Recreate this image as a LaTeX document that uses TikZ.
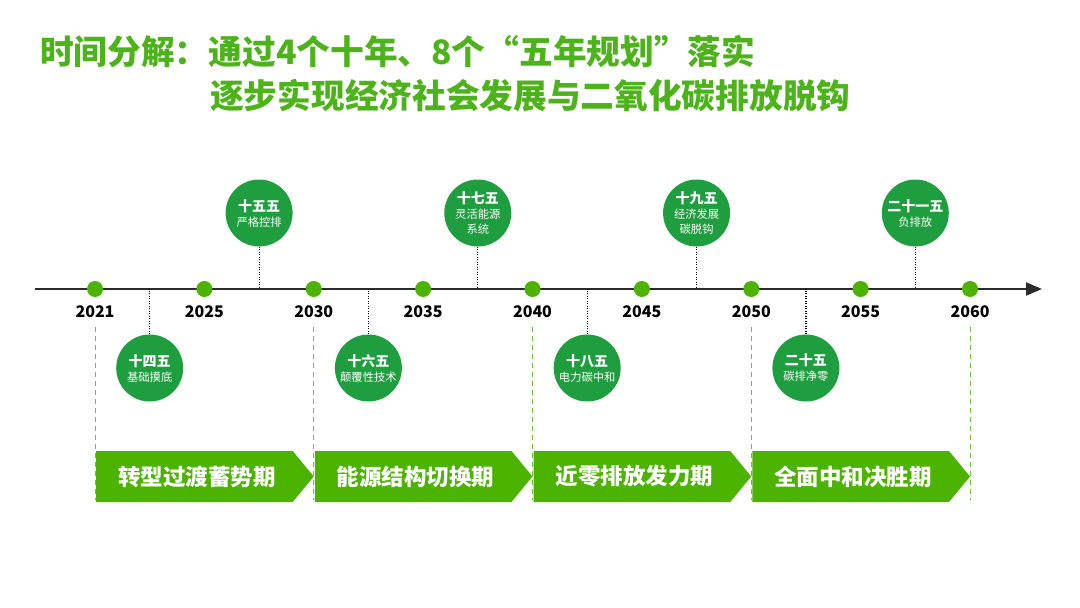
\documentclass[tikz,border=0pt]{standalone}
\usepackage{fontspec}
\setmainfont{Noto Sans CJK SC}
\usetikzlibrary{arrows.meta}
\definecolor{lgreen}{HTML}{4CB400}
\definecolor{tgreen}{HTML}{4CB31A}
\definecolor{dgreen}{HTML}{1E9E3E}
\definecolor{dashgreen}{HTML}{6CC23A}
\definecolor{axisgray}{HTML}{2B2B2B}
\newcommand\plantitle[1]{{\bfseries\fontsize{14}{15}\selectfont #1}}
\begin{document}
\begin{tikzpicture}[x=1pt,y=-1pt,
  titletext/.style={text=tgreen, font=\bfseries\fontsize{33.7}{36}\selectfont, anchor=west, inner sep=0},
  yeardot/.style={circle, fill=lgreen, minimum size=16pt, inner sep=0},
  yeartext/.style={font=\bfseries\fontsize{16}{18}\selectfont, text=black, inner sep=0},
  plan/.style={circle, fill=dgreen, minimum size=67pt, inner sep=0, text=white, align=center, font=\fontsize{11.3}{15}\selectfont},
  link/.style={black, line width=1.2pt, dash pattern=on 1.2pt off 1.3pt},
  guide/.style={dashgreen, line width=1pt, dash pattern=on 5pt off 4pt},
  phasetext/.style={text=white, font=\bfseries\fontsize{22.5}{24}\selectfont, inner sep=0}
]
\path[use as bounding box] (0,0) rectangle (1080,608);

% title
\node[titletext] (t1) at (40,51) {时间分解：通过4个十年、8个“五年规划”落实};
\node[titletext] (t2) at (210,96) {逐步实现经济社会发展与二氧化碳排放脱钩};

% axis
\coordinate (axL) at (35,289);
\coordinate (axR) at (1042,289);
\draw[axisgray, line width=2pt, -{Triangle[length=16pt,width=13pt]}] (axL) -- (axR);

% guides (behind)
\foreach \i/\yr in {0/2021,2/2030,4/2040,6/2050,8/2060} {
  \coordinate (ga\yr) at ({95+109.375*\i},327);
  \coordinate (gb\yr) at ({95+109.375*\i},500);
  \draw[guide] (ga\yr) -- (gb\yr);
}

% year dots and labels
\foreach \i/\yr in {0/2021,1/2025,2/2030,3/2035,4/2040,5/2045,6/2050,7/2055,8/2060} {
  \node[yeardot] (d\yr) at ({95+109.375*\i},289) {};
  \node[yeartext] (y\yr) at ({95+109.375*\i},312) {\yr};
}

% plan circles
\node[plan] (p14) at (149.7,368) {\plantitle{十四五}\\基础摸底};
\node[plan] (p15) at (259.1,213) {\plantitle{十五五}\\严格控排};
\node[plan] (p16) at (368.4,368) {\plantitle{十六五}\\颠覆性技术};
\node[plan] (p17) at (477.8,213) {\plantitle{十七五}\\灵活能源\\系统};
\node[plan] (p18) at (587.2,368) {\plantitle{十八五}\\电力碳中和};
\node[plan] (p19) at (696.6,213) {\plantitle{十九五}\\经济发展\\碳脱钩};
\node[plan] (p20) at (805.9,368) {\plantitle{二十五}\\碳排净零};
\node[plan] (p21) at (915.3,213) {\plantitle{二十一五}\\负排放};

% dotted links
\foreach \p in {p14,p16,p18,p20} \draw[link] (\p.north) -- (\p.north |- axL);
\foreach \p in {p15,p17,p19,p21} \draw[link] (\p.south) -- (\p.south |- axL);

% phases
\foreach \a/\b/\txt/\n in {95/313.75/转型过渡蓄势期/1, 313.75/532.5/能源结构切换期/2, 532.5/751.25/近零排放发力期/3, 751.25/970/全面中和决胜期/4} {
  \fill[lgreen] (\a+1,451) -- (\b-21,451) -- (\b,476.5) -- (\b-21,502) -- (\a+1,502) -- cycle;
  \node[phasetext] (ph\n) at ({(\a+\b-15)/2},476.5) {\txt};
}
\end{tikzpicture}
\end{document}
